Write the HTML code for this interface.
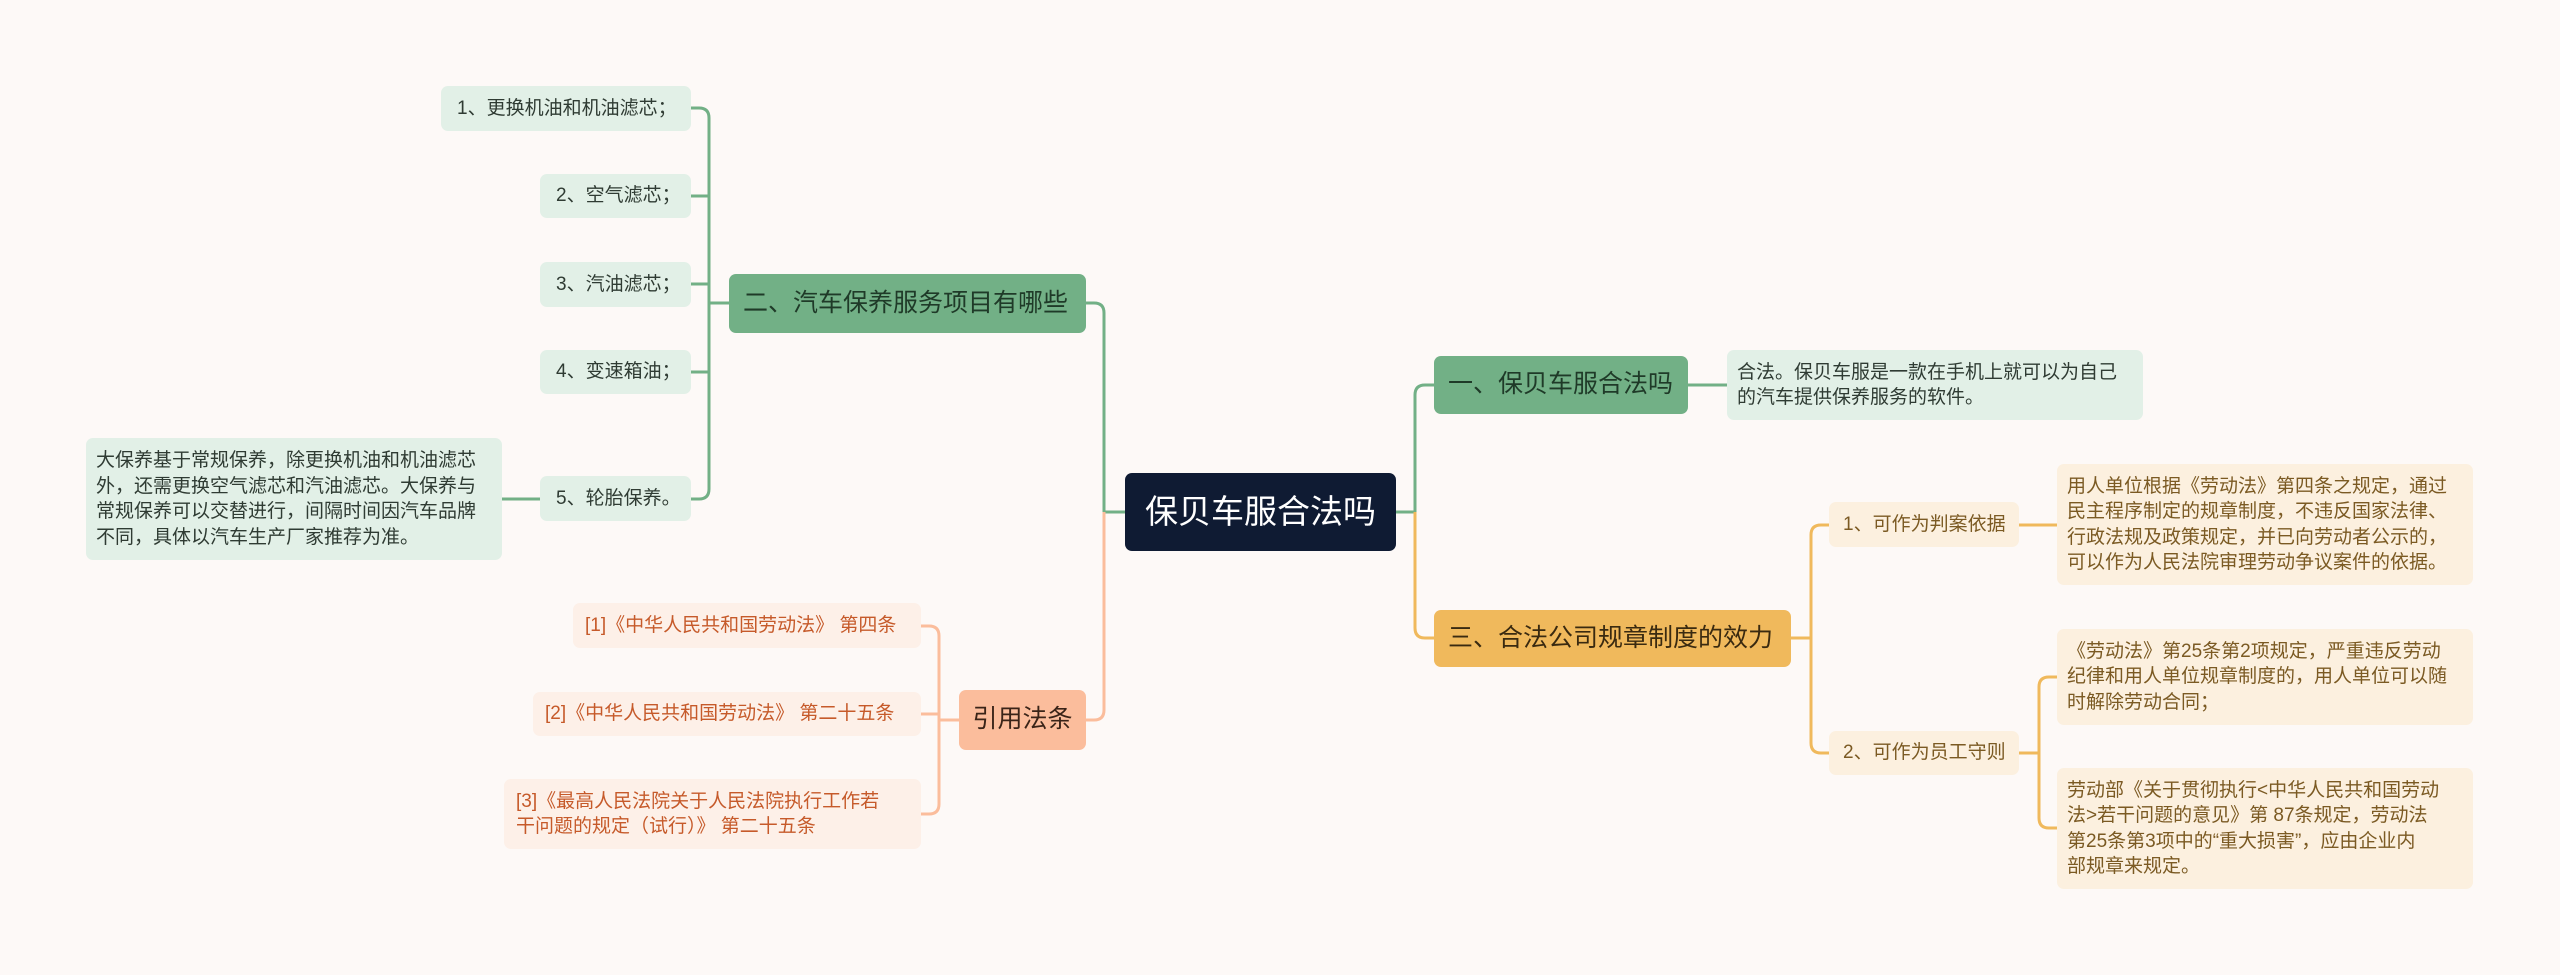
<!DOCTYPE html>
<html><head><meta charset="utf-8"><style>
body{margin:0;width:2560px;height:975px;background:#fdf9f7;position:relative;overflow:hidden;font-family:"Liberation Sans","Noto Sans CJK SC",sans-serif;}
.n{position:absolute;box-sizing:border-box;border-radius:7px;display:flex;align-items:center;white-space:nowrap;font-size:19px;line-height:25.5px;}
.g{background:#e2f0e7;color:#2f3b33;padding-left:16px;}
.G{background:#72b086;color:#1f3a28;font-size:25px;padding-left:14px;}
.o{background:#fcf0df;color:#7b5a23;padding-left:14px;}
.O{background:#f0b95c;color:#3a2a10;font-size:25px;padding-left:14px;}
.s{background:#fdf0e8;color:#c65a2a;padding-left:12px;}
.S{background:#fbbd9c;color:#3a2418;font-size:25px;justify-content:center;}
</style></head><body>
<svg width="2560" height="975" style="position:absolute;left:0;top:0" fill="none" stroke-width="3">
<g stroke="#72b086">
<path d="M1396 512 H1415 M1415 512 V395 Q1415 385 1425 385 H1434"/>
<path d="M1125 512 H1104 M1104 512 V313 Q1104 303 1094 303 H1086"/>
<path d="M729 303 H709 M691 108 H699 Q709 108 709 118 V489 Q709 499 699 499 H691 M691 196 H709 M691 284 H709 M691 372 H709 M540 499 H502 M1688 385 H1727"/>
</g>
<g stroke="#f0b95c">
<path d="M1415 512 V628 Q1415 638 1425 638 H1434"/>
<path d="M1791 638 H1811 M1829 525 H1821 Q1811 525 1811 535 V743 Q1811 753 1821 753 H1829 M2019 525 H2057 M2019 753 H2039 M2057 677 H2049 Q2039 677 2039 687 V818 Q2039 828 2049 828 H2057"/>
</g>
<g stroke="#fbbd9c">
<path d="M1104 512 V710 Q1104 720 1094 720 H1086"/>
<path d="M959 720 H939 M921 626 H929 Q939 626 939 636 V804 Q939 814 929 814 H921 M921 714 H939"/>
</g>
</svg>
<div class="n" style="left:1125px;top:473px;width:271px;height:78px;background:#0f1b33;color:#fff;font-size:33px;justify-content:center;">保贝车服合法吗</div>

<div class="n G" style="left:729px;top:274px;width:357px;height:59px;">二、汽车保养服务项目有哪些</div>
<div class="n g" style="left:441px;top:86px;width:250px;height:45px;">1、更换机油和机油滤芯；</div>
<div class="n g" style="left:540px;top:174px;width:151px;height:44px;">2、空气滤芯；</div>
<div class="n g" style="left:540px;top:262px;width:151px;height:45px;">3、汽油滤芯；</div>
<div class="n g" style="left:540px;top:350px;width:151px;height:44px;">4、变速箱油；</div>
<div class="n g" style="left:540px;top:476px;width:151px;height:45px;">5、轮胎保养。</div>
<div class="n g" style="left:86px;top:438px;width:416px;height:122px;padding-left:10px;">大保养基于常规保养，除更换机油和机油滤芯<br>外，还需更换空气滤芯和汽油滤芯。大保养与<br>常规保养可以交替进行，间隔时间因汽车品牌<br>不同，具体以汽车生产厂家推荐为准。</div>

<div class="n S" style="left:959px;top:690px;width:127px;height:60px;">引用法条</div>
<div class="n s" style="left:573px;top:603px;width:348px;height:45px;">[1]《中华人民共和国劳动法》 第四条</div>
<div class="n s" style="left:533px;top:692px;width:388px;height:44px;">[2]《中华人民共和国劳动法》 第二十五条</div>
<div class="n s" style="left:504px;top:779px;width:417px;height:70px;">[3]《最高人民法院关于人民法院执行工作若<br>干问题的规定（试行）》 第二十五条</div>

<div class="n G" style="left:1434px;top:356px;width:254px;height:58px;">一、保贝车服合法吗</div>
<div class="n g" style="left:1727px;top:350px;width:416px;height:70px;padding-left:10px;">合法。保贝车服是一款在手机上就可以为自己<br>的汽车提供保养服务的软件。</div>

<div class="n O" style="left:1434px;top:610px;width:357px;height:57px;">三、合法公司规章制度的效力</div>
<div class="n o" style="left:1829px;top:502px;width:190px;height:45px;">1、可作为判案依据</div>
<div class="n o" style="left:1829px;top:731px;width:190px;height:44px;">2、可作为员工守则</div>
<div class="n o" style="left:2057px;top:464px;width:416px;height:121px;padding-left:10px;">用人单位根据《劳动法》第四条之规定，通过<br>民主程序制定的规章制度，不违反国家法律、<br>行政法规及政策规定，并已向劳动者公示的，<br>可以作为人民法院审理劳动争议案件的依据。</div>
<div class="n o" style="left:2057px;top:629px;width:416px;height:96px;padding-left:10px;">《劳动法》第25条第2项规定，严重违反劳动<br>纪律和用人单位规章制度的，用人单位可以随<br>时解除劳动合同；</div>
<div class="n o" style="left:2057px;top:768px;width:416px;height:121px;padding-left:10px;">劳动部《关于贯彻执行&lt;中华人民共和国劳动<br>法&gt;若干问题的意见》第 87条规定，劳动法<br>第25条第3项中的“重大损害”，应由企业内<br>部规章来规定。</div>
</body></html>
